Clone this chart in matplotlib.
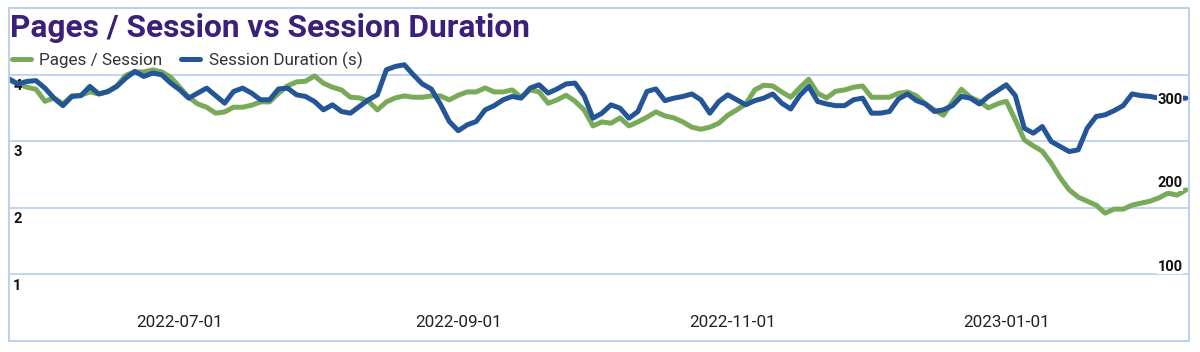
import matplotlib
matplotlib.use("Agg")
import matplotlib.pyplot as plt
import pandas as pd

dates = pd.date_range("2022-05-24", periods=132, freq="2D")

pages_per_session = [
    3.92, 3.86, 3.81, 3.78, 3.60, 3.65, 3.56, 3.68, 3.69, 3.74,
    3.71, 3.74, 3.83, 3.99, 4.04, 4.04, 4.07, 4.04, 3.96, 3.81,
    3.66, 3.56, 3.51, 3.42, 3.44, 3.51, 3.51, 3.54, 3.59, 3.59,
    3.72, 3.83, 3.89, 3.90, 3.98, 3.87, 3.81, 3.77, 3.66, 3.65,
    3.60, 3.47, 3.59, 3.65, 3.68, 3.66, 3.66, 3.68, 3.68, 3.62,
    3.69, 3.74, 3.74, 3.80, 3.74, 3.74, 3.77, 3.66, 3.77, 3.74,
    3.57, 3.62, 3.69, 3.60, 3.47, 3.23, 3.29, 3.27, 3.35, 3.23,
    3.29, 3.36, 3.44, 3.38, 3.35, 3.29, 3.21, 3.18, 3.21, 3.27,
    3.39, 3.47, 3.56, 3.77, 3.84, 3.83, 3.74, 3.66, 3.80, 3.93,
    3.72, 3.65, 3.75, 3.77, 3.81, 3.83, 3.66, 3.66, 3.66, 3.72,
    3.74, 3.68, 3.56, 3.47, 3.39, 3.59, 3.78, 3.66, 3.60, 3.50,
    3.56, 3.60, 3.32, 3.02, 2.93, 2.85, 2.67, 2.45, 2.27, 2.16,
    2.10, 2.04, 1.92, 1.98, 1.98, 2.04, 2.07, 2.10, 2.15, 2.22,
    2.19, 2.27,
]

session_duration = [
    325, 319, 322, 323, 314, 302, 293, 304, 305, 316,
    307, 310, 316, 326, 334, 328, 332, 330, 320, 312,
    302, 308, 314, 305, 296, 310, 314, 308, 300, 300,
    313, 314, 306, 304, 298, 288, 294, 286, 284, 292,
    300, 306, 336, 340, 342, 330, 319, 313, 295, 274,
    263, 270, 274, 288, 293, 300, 304, 302, 314, 318,
    308, 313, 319, 320, 305, 278, 284, 294, 290, 278,
    286, 310, 313, 299, 302, 304, 307, 300, 284, 298,
    306, 300, 294, 299, 302, 307, 296, 289, 305, 316,
    298, 295, 293, 293, 300, 302, 284, 284, 286, 301,
    307, 299, 295, 286, 288, 293, 304, 302, 295, 304,
    311, 318, 305, 266, 260, 268, 250, 244, 238, 240,
    266, 280, 282, 287, 293, 307, 305, 304, 302, 302,
    302, 302,
]

left_ticks = [1, 2, 3, 4]
right_ticks = [100, 200, 300]
x_ticks = ["2022-07-01", "2022-09-01", "2022-11-01", "2023-01-01"]

GREEN = "#78aa5a"
BLUE = "#245596"
GRID = "#bcd3ee"

plt.rcParams["font.family"] = ["Roboto", "DejaVu Sans"]

fig = plt.figure(figsize=(12, 3.52), dpi=100)
ax = fig.add_axes([9 / 1200, 11 / 352, 1180 / 1200, 333 / 352])
ax2 = ax.twinx()

l1, = ax.plot(dates, pages_per_session, color=GREEN, lw=3.6,
              solid_joinstyle="round", solid_capstyle="round", label="Pages / Session")
l2, = ax2.plot(dates, session_duration, color=BLUE, lw=3.6,
               solid_joinstyle="round", solid_capstyle="round", label="Session Duration (s)")

ax.set_xlim(dates[0], dates[-1] + pd.Timedelta(hours=16))
ax.set_ylim(0, 5)
ax2.set_ylim(11, 410)

# gridlines
ax.set_yticks(left_ticks)
ax.set_yticklabels([])
ax.grid(axis="y", color=GRID, lw=1.3)
ax.tick_params(axis="y", length=0)
ax2.set_yticks([])

ax.set_xticks(pd.to_datetime(x_ticks))
ax.set_xticklabels(x_ticks)
ax.tick_params(axis="x", length=0, pad=-19, labelsize=12.3, labelcolor="#222222")

for sp in list(ax.spines.values()) + list(ax2.spines.values()):
    sp.set_color(GRID)
    sp.set_linewidth(1.3)

# axis labels drawn inside the plot
for v in left_ticks:
    ax.annotate(str(v), xy=(0, v), xycoords=("axes fraction", "data"),
                xytext=(3, -3), textcoords="offset points", ha="left", va="top",
                fontsize=10.5, fontweight="bold", color="#111111", zorder=5)
for v in right_ticks:
    ax2.annotate(str(v), xy=(1, v), xycoords=("axes fraction", "data"),
                 xytext=(-4.5, 0), textcoords="offset points", ha="right", va="center",
                 fontsize=10.5, fontweight="bold", color="#111111", zorder=5,
                 bbox=dict(facecolor="white", edgecolor="none", pad=0.3))

fig.text(10 / 1200, (352 - 37) / 352, "Pages / Session vs Session Duration",
         fontsize=22.8, fontweight="bold", color="#3b1f7a", ha="left", va="baseline")

ax2.legend(handles=[l1, l2], loc="center left", bbox_to_anchor=(12 / 1200, (352 - 60) / 352),
           bbox_transform=fig.transFigure, ncol=2, frameon=False, fontsize=12.3,
           handlelength=1.1, handletextpad=0.5, columnspacing=1.1,
           borderaxespad=0, borderpad=0, labelcolor="#333333")

fig.savefig("out.png", dpi=100)
